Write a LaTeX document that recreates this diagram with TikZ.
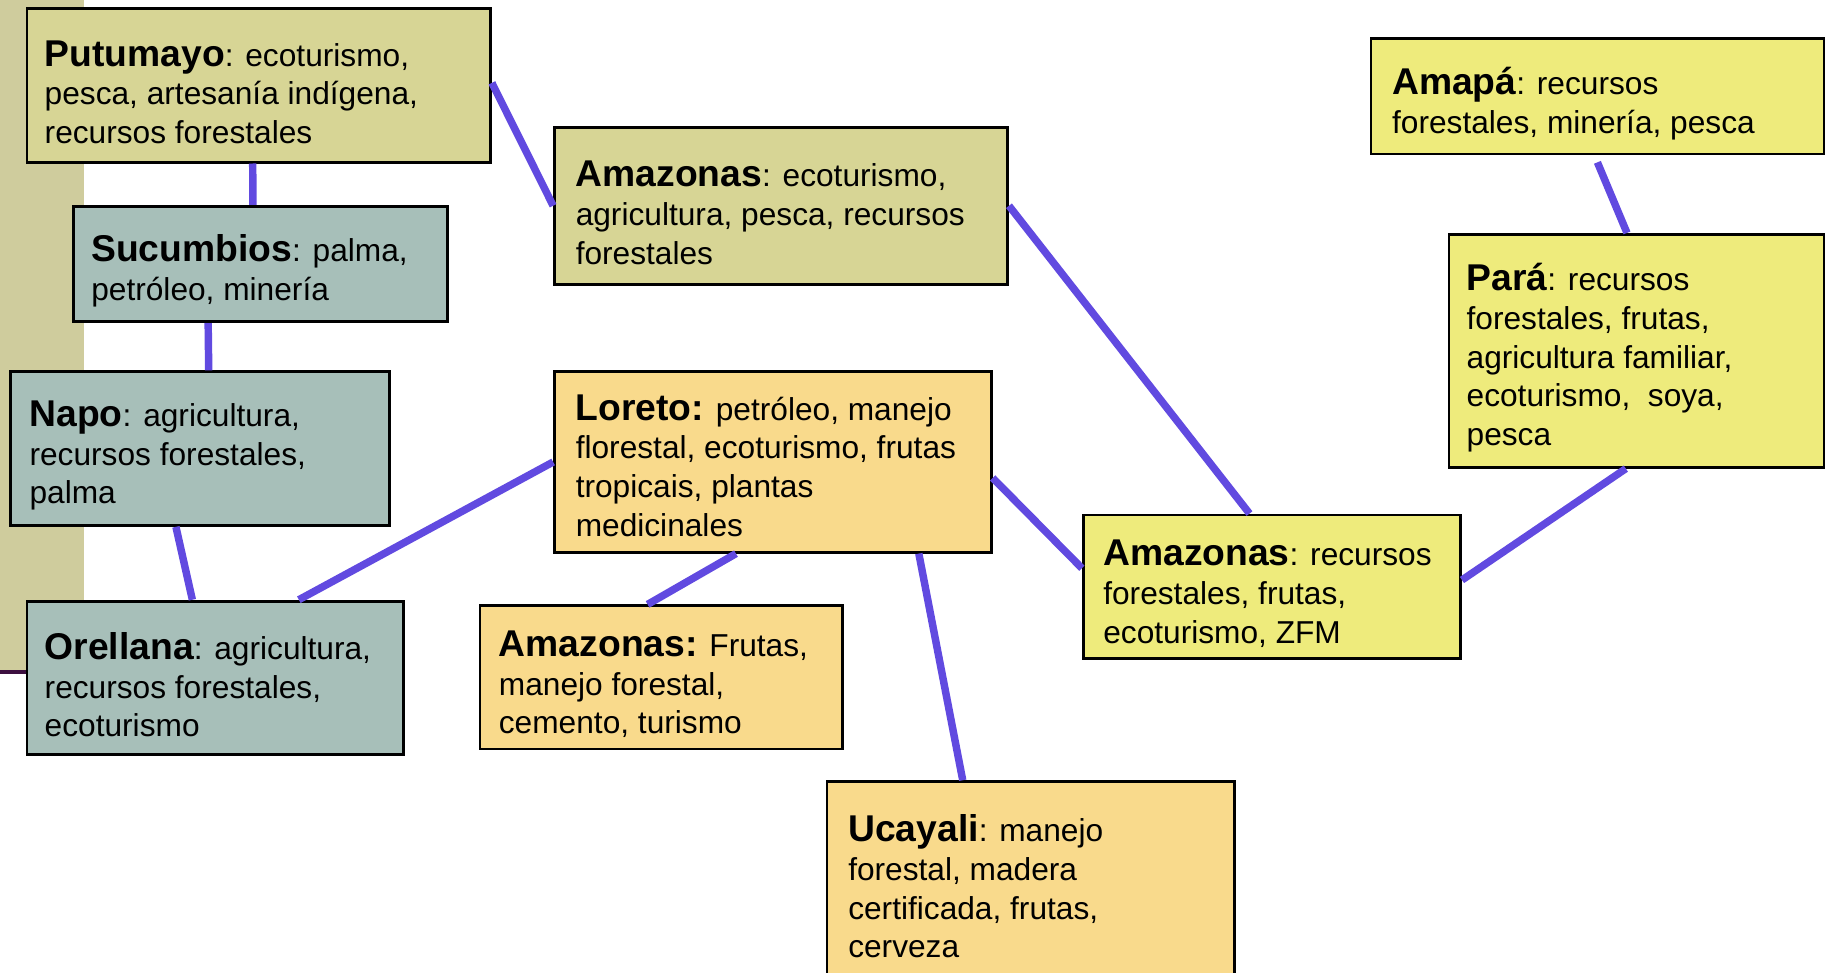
\documentclass[tikz,border=0pt]{standalone}
\usepackage{fontspec}
\setmainfont{Liberation Sans}
\usetikzlibrary{calc}
\definecolor{khakibox}{HTML}{D7D595}
\definecolor{tealbox}{HTML}{A7BFB9}
\definecolor{orangebox}{HTML}{F9DA8C}
\definecolor{yellowbox}{HTML}{EEEB7C}
\definecolor{stripc}{HTML}{CFCC9D}
\definecolor{linkc}{HTML}{614AE0}
\definecolor{darkline}{HTML}{3D0F40}
\newcommand{\nm}[1]{{\fontsize{16}{16.6}\selectfont\bfseries #1}}
\begin{document}
\begin{tikzpicture}[x=0.5pt,y=-0.5pt,
  box/.style={draw=black, line width=1.2pt, anchor=north west, inner sep=0pt},
  txt/.style={anchor=west, align=left, inner sep=0pt, yshift=-3pt,
    font=\fontsize{13.6}{16.6}\selectfont},
  link/.style={draw=linkc, line width=3.2pt}]
\useasboundingbox (0,0) rectangle (1568,834.7);
\clip (0,0) rectangle (1568,834.7);
% left strip
\fill[stripc] (0,0) rectangle (72,577);
\draw[darkline, line width=2pt] (0,577) -- (22,577);
% boxes
\node[box, fill=khakibox, minimum width=199pt, minimum height=66pt] (put) at (22,6) {};
\node[box, fill=tealbox, minimum width=160.5pt, minimum height=49.5pt] (suc) at (62,176) {};
\node[box, fill=tealbox, minimum width=162.5pt, minimum height=66pt] (napo) at (8,318) {};
\node[box, fill=tealbox, minimum width=161.5pt, minimum height=66pt] (ore) at (22,515) {};
\node[box, fill=khakibox, minimum width=194.5pt, minimum height=67.5pt] (amzT) at (475,108) {};
\node[box, fill=orangebox, minimum width=187.5pt, minimum height=77.5pt] (lor) at (475,318) {};
\node[box, fill=orangebox, minimum width=155.5pt, minimum height=61.5pt] (amzL) at (411,519) {};
\node[box, fill=orangebox, minimum width=175pt, minimum height=90pt] (ucay) at (709,670) {};
\node[box, fill=yellowbox, minimum width=162pt, minimum height=61.5pt] (amzR) at (929,441) {};
\node[box, fill=yellowbox, minimum width=194.5pt, minimum height=49.5pt] (amapa) at (1176,32) {};
\node[box, fill=yellowbox, minimum width=161pt, minimum height=100pt] (para) at (1243,200) {};
% texts
\node[txt] (putT) at ([xshift=8pt]put.west) {\nm{Putumayo}: ecoturismo,\\pesca, artesanía indígena,\\recursos forestales};
\node[txt] (sucT) at ([xshift=8pt]suc.west) {\nm{Sucumbios}: palma,\\petróleo, minería};
\node[txt] (napoT) at ([xshift=8.5pt]napo.west) {\nm{Napo}: agricultura,\\recursos forestales,\\palma};
\node[txt] (oreT) at ([xshift=8pt]ore.west) {\nm{Orellana}: agricultura,\\recursos forestales,\\ecoturismo};
\node[txt] (amzTT) at ([xshift=9.5pt]amzT.west) {\nm{Amazonas}: ecoturismo,\\agricultura, pesca, recursos\\forestales};
\node[txt, yshift=1.5pt] (lorT) at ([xshift=9.5pt]lor.west) {\nm{Loreto:} petróleo, manejo\\florestal, ecoturismo, frutas\\tropicais, plantas\\medicinales};
\node[txt] (amzLT) at ([xshift=8.5pt]amzL.west) {\nm{Amazonas:} Frutas,\\manejo forestal,\\cemento, turismo};
\node[txt, yshift=3pt] (ucayT) at ([xshift=9.5pt]ucay.west) {\nm{Ucayali}: manejo\\forestal, madera\\certificada, frutas,\\cerveza};
\node[txt] (amzRT) at ([xshift=9pt]amzR.west) {\nm{Amazonas}: recursos\\forestales, frutas,\\ecoturismo, ZFM};
\node[txt] (amapaT) at ([xshift=9.5pt]amapa.west) {\nm{Amapá}: recursos\\forestales, minería, pesca};
\node[txt] (paraT) at ([xshift=8pt]para.west) {\nm{Pará}: recursos\\forestales, frutas,\\agricultura familiar,\\ecoturismo,\ \ soya,\\pesca};
% connectors
\draw[link] ($(put.south west)!0.487!(put.south east)$) -- ($(suc.north west)!0.48!(suc.north east)$);
\draw[link] ($(suc.south west)!0.361!(suc.south east)$) -- ($(napo.north west)!0.523!(napo.north east)$);
\draw[link] ($(napo.south west)!0.437!(napo.south east)$) -- ($(ore.north west)!0.44!(ore.north east)$);
\draw[link] ($(put.north east)!0.485!(put.south east)$) -- (amzT.west);
\draw[link] (lor.west) -- ($(ore.north west)!0.721!(ore.north east)$);
\draw[link] (amzT.east) -- ($(amzR.north west)!0.441!(amzR.north east)$);
\draw[link] ($(lor.north east)!0.587!(lor.south east)$) -- ($(amzR.north west)!0.374!(amzR.south west)$);
\draw[link] ($(lor.south west)!0.416!(lor.south east)$) -- ($(amzL.north west)!0.463!(amzL.north east)$);
\draw[link] ($(lor.south west)!0.832!(lor.south east)$) -- ($(ucay.north west)!0.334!(ucay.north east)$);
\draw[link] ([yshift=-3pt]amapa.south) -- ($(para.north west)!0.475!(para.north east)$);
\draw[link] ($(para.south west)!0.472!(para.south east)$) -- ($(amzR.north east)!0.455!(amzR.south east)$);
\end{tikzpicture}
\end{document}
